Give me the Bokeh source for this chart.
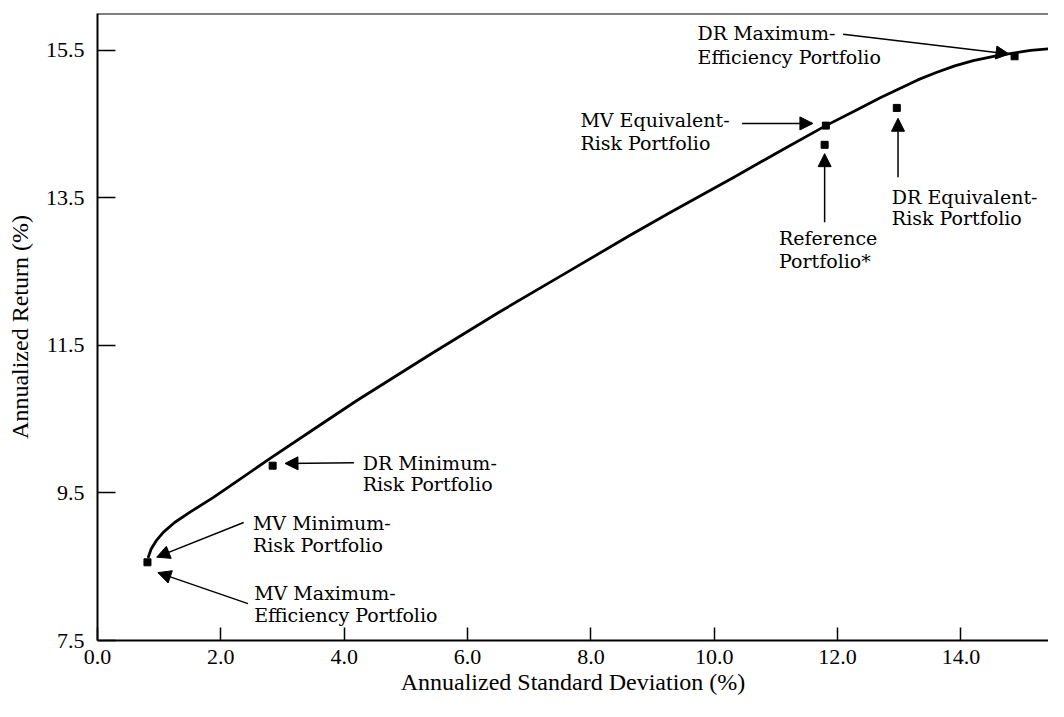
from bokeh.plotting import figure
from bokeh.models import Range1d, Span, Label, Arrow, NormalHead, FixedTicker, CustomJSTickFormatter
from bokeh.embed import file_html
from bokeh.resources import INLINE

# ---- data ----
frontier_sd = [0.82, 0.87, 0.95, 1.07, 1.25, 1.50, 1.88, 2.30, 2.80, 3.50, 4.20, 5.40,
               6.49, 7.57, 8.65, 9.30, 10.32, 11.10, 11.81, 12.30, 12.70, 13.00,
               13.30, 13.60, 13.90, 14.20, 14.59, 15.13, 15.65]
frontier_ret = [8.62, 8.74, 8.85, 8.97, 9.10, 9.24, 9.44, 9.68, 9.97, 10.36, 10.75, 11.38,
                11.94, 12.47, 13.00, 13.31, 13.78, 14.15, 14.48, 14.69, 14.86, 14.98,
                15.10, 15.20, 15.29, 15.36, 15.43, 15.50, 15.54]

portfolio_names = ["MV Minimum-Risk / MV Maximum-Efficiency", "DR Minimum-Risk",
                   "MV Equivalent-Risk", "Reference", "DR Equivalent-Risk",
                   "DR Maximum-Efficiency"]
portfolio_sd = [0.81, 2.84, 11.81, 11.79, 12.96, 14.87]
portfolio_ret = [8.56, 9.87, 14.48, 14.22, 14.72, 15.42]

x_ticks = [0, 2, 4, 6, 8, 10, 12, 14]
y_ticks = [7.5, 9.5, 11.5, 13.5, 15.5]

# annotation texts: (line1, line2)
annotation_texts = [
    ("DR Maximum-", "Efficiency Portfolio"),
    ("MV Equivalent-", "Risk Portfolio"),
    ("Reference", "Portfolio*"),
    ("DR Equivalent-", "Risk Portfolio"),
    ("DR Minimum-", "Risk Portfolio"),
    ("MV Minimum-", "Risk Portfolio"),
    ("MV Maximum-", "Efficiency Portfolio"),
]

# ---- layout of annotations (data units) ----
text_pos = [  # left x, line1 y, line2 y
    (9.73, 15.73, 15.41),
    (7.83, 14.55, 14.25),
    (11.05, 12.96, 12.65),
    (12.88, 13.51, 13.23),
    (4.30, 9.91, 9.62),
    (2.52, 9.09, 8.79),
    (2.54, 8.14, 7.85),
]
arrow_pos = [  # x_start, y_start, x_end, y_end
    (12.09, 15.72, 14.78, 15.45),
    (10.45, 14.51, 11.60, 14.51),
    (11.79, 13.17, 11.79, 14.10),
    (12.98, 13.78, 12.98, 14.58),
    (4.16, 9.91, 3.04, 9.90),
    (2.37, 9.10, 0.96, 8.63),
    (2.44, 8.00, 0.98, 8.42),
]

SERIF = "Liberation Serif"
ANN_FONT = "DejaVu Serif"

p = figure(width=1048, height=701, output_backend="svg", toolbar_location=None,
           x_range=Range1d(0, 15.42), y_range=Range1d(7.5, 16.0),
           min_border_left=97, min_border_right=0, min_border_top=13,
           min_border_bottom=61, background_fill_color="white",
           border_fill_color="white")
p.outline_line_color = None
p.grid.visible = False

for ax in (p.xaxis[0], p.yaxis[0]):
    ax.axis_line_width = 2
    ax.axis_line_color = "black"
    ax.major_tick_line_color = "black"
    ax.major_tick_line_width = 1.5
    ax.major_tick_out = 0
    ax.minor_tick_line_color = None
    ax.major_label_text_font = SERIF
    ax.major_label_text_font_size = "22px"
    ax.major_label_text_color = "black"
    ax.axis_label_text_font = SERIF
    ax.axis_label_text_font_size = "24px"
    ax.axis_label_text_font_style = "normal"
    ax.axis_label_text_color = "black"

p.xaxis[0].ticker = FixedTicker(ticks=x_ticks)
p.xaxis[0].formatter = CustomJSTickFormatter(code="return tick.toFixed(1);")
p.xaxis[0].major_tick_in = 13
p.xaxis[0].major_label_standoff = 9
p.xaxis[0].axis_label = "Annualized Standard Deviation (%)"
p.xaxis[0].axis_label_standoff = 2

p.yaxis[0].ticker = FixedTicker(ticks=y_ticks)
p.yaxis[0].formatter = CustomJSTickFormatter(code="return tick.toFixed(1);")
p.yaxis[0].major_tick_in = 18
p.yaxis[0].major_label_standoff = 13
p.yaxis[0].axis_label = "Annualized Return (%)"
p.yaxis[0].axis_label_standoff = 10

# top border line
p.add_layout(Span(location=16.0, dimension="width", line_color="black", line_width=2))

# frontier
p.line(frontier_sd, frontier_ret, line_color="black", line_width=2.8, line_join="round")

# portfolios
p.scatter(portfolio_sd, portfolio_ret, marker="square", size=7,
          fill_color="black", line_color="black")

# annotations
for (l1, l2), (tx, ty1, ty2) in zip(annotation_texts, text_pos):
    for txt, ty in ((l1, ty1), (l2, ty2)):
        p.add_layout(Label(x=tx, y=ty, text=txt, text_font=ANN_FONT,
                           text_font_size="19px", text_color="black",
                           text_align="left", text_baseline="middle"))

for (xs, ys, xe, ye) in arrow_pos:
    p.add_layout(Arrow(x_start=xs, y_start=ys, x_end=xe, y_end=ye,
                       line_color="black", line_width=1.5,
                       end=NormalHead(size=13, fill_color="black",
                                      line_color="black", line_width=1)))

open("out.html", "w").write(file_html(p, INLINE))
